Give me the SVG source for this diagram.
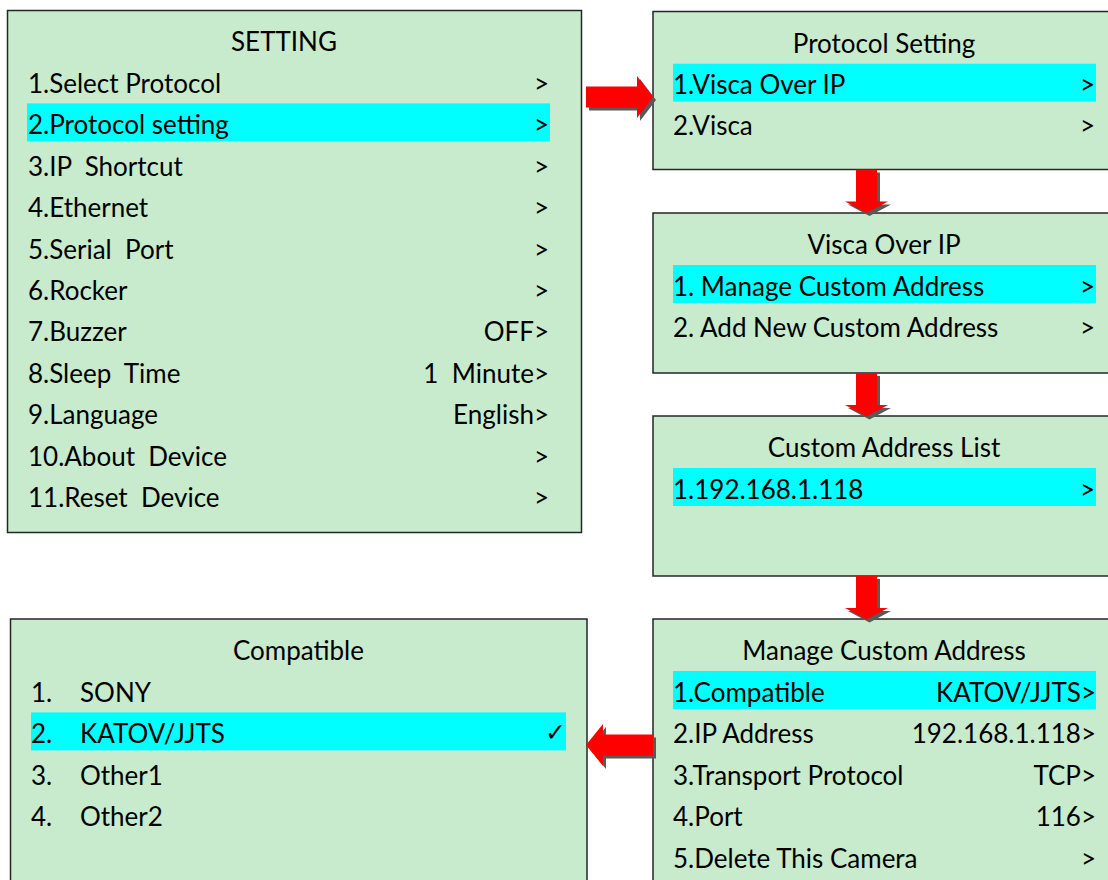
<svg xmlns="http://www.w3.org/2000/svg" width="1108" height="880" viewBox="0 0 1108 880">
<style>
.box{fill:#C7EBCC;stroke:#262626;stroke-width:1.5}
.hl{fill:#00FFFF}
.t{font-family:Lato,"Liberation Sans",sans-serif;font-size:26px;fill:#000;white-space:pre}
.c{text-anchor:middle}
.r{text-anchor:end}
.arr{fill:#FF0000}
.sh{fill:#595959}
</style>
<defs>
<path id="down" d="M-10.5,0 H10.5 V32 H21.5 L0,43.5 L-21.5,32 H-10.5 Z"/>
</defs>
<rect width="1108" height="880" fill="#FFFFFF"/>

<g id="setting">
<rect class="box" x="7.5" y="10.5" width="574" height="522"/>
<rect class="hl" x="27" y="103.4" width="523" height="38"/>
<text class="t c" x="284" y="51">SETTING</text>
<text class="t" x="28" y="93">1.Select Protocol</text><text class="t r" x="549" y="93">&gt;</text>
<text class="t" x="28" y="134.4">2.Protocol setting</text><text class="t r" x="549" y="134.4">&gt;</text>
<text class="t" x="28" y="175.8">3.IP  Shortcut</text><text class="t r" x="549" y="175.8">&gt;</text>
<text class="t" x="28" y="217.2">4.Ethernet</text><text class="t r" x="549" y="217.2">&gt;</text>
<text class="t" x="28" y="258.6">5.Serial  Port</text><text class="t r" x="549" y="258.6">&gt;</text>
<text class="t" x="28" y="300">6.Rocker</text><text class="t r" x="549" y="300">&gt;</text>
<text class="t" x="28" y="341.4">7.Buzzer</text><text class="t r" x="549" y="341.4">OFF&gt;</text>
<text class="t" x="28" y="382.8">8.Sleep  Time</text><text class="t r" x="549" y="382.8">1  Minute&gt;</text>
<text class="t" x="28" y="424.2">9.Language</text><text class="t r" x="549" y="424.2">English&gt;</text>
<text class="t" x="28" y="465.6">10.About  Device</text><text class="t r" x="549" y="465.6">&gt;</text>
<text class="t" x="28" y="507">11.Reset  Device</text><text class="t r" x="549" y="507">&gt;</text>
</g>

<g id="protocol-setting">
<rect class="box" x="653" y="11.5" width="470" height="158"/>
<rect class="hl" x="673" y="63.7" width="423" height="38"/>
<text class="t c" x="884" y="52.7">Protocol Setting</text>
<text class="t" x="673" y="93.5">1.Visca Over IP</text><text class="t r" x="1095" y="93.5">&gt;</text>
<text class="t" x="673" y="135">2.Visca</text><text class="t r" x="1095" y="135">&gt;</text>
</g>

<g id="visca-over-ip">
<rect class="box" x="653" y="213" width="470" height="160"/>
<rect class="hl" x="673" y="265" width="423" height="38"/>
<text class="t c" x="884" y="254">Visca Over IP</text>
<text class="t" x="673" y="295.5">1. Manage Custom Address</text><text class="t r" x="1095" y="295.5">&gt;</text>
<text class="t" x="673" y="336.8">2. Add New Custom Address</text><text class="t r" x="1095" y="336.8">&gt;</text>
</g>

<g id="custom-address-list">
<rect class="box" x="653" y="416" width="470" height="160"/>
<rect class="hl" x="673" y="468" width="423" height="38"/>
<text class="t c" x="884" y="457">Custom Address List</text>
<text class="t" x="673" y="499">1.192.168.1.118</text><text class="t r" x="1095" y="499">&gt;</text>
</g>

<g id="manage-custom-address">
<rect class="box" x="653" y="619" width="470" height="280"/>
<rect class="hl" x="673" y="671" width="423" height="38"/>
<text class="t c" x="884" y="660">Manage Custom Address</text>
<text class="t" x="673" y="702">1.Compatible</text><text class="t r" x="1096" y="702">KATOV/JJTS&gt;</text>
<text class="t" x="673" y="743.4">2.IP Address</text><text class="t r" x="1096" y="743.4">192.168.1.118&gt;</text>
<text class="t" x="673" y="784.8">3.Transport Protocol</text><text class="t r" x="1096" y="784.8">TCP&gt;</text>
<text class="t" x="673" y="826.2">4.Port</text><text class="t r" x="1096" y="826.2">116&gt;</text>
<text class="t" x="673" y="867.6">5.Delete This Camera</text><text class="t r" x="1096" y="867.6">&gt;</text>
</g>

<g id="compatible">
<rect class="box" x="10.5" y="619" width="576.5" height="280"/>
<rect class="hl" x="31" y="712.4" width="535" height="38"/>
<text class="t c" x="298.5" y="660">Compatible</text>
<text class="t" x="31" y="702">1.</text><text class="t" x="80" y="702">SONY</text>
<text class="t" x="31" y="743.4">2.</text><text class="t" x="80" y="743.4">KATOV/JJTS</text>
<text x="566" y="741" text-anchor="end" font-family="DejaVu Sans" font-size="25" fill="#000">✓</text>
<text class="t" x="31" y="784.8">3.</text><text class="t" x="80" y="784.8">Other1</text>
<text class="t" x="31" y="826.2">4.</text><text class="t" x="80" y="826.2">Other2</text>
</g>

<g id="connectors">
<path class="sh" transform="translate(3,3)" d="M586,86.5 H637 V76 L653,97 L637,118 V107.5 H586 Z"/>
<path class="arr" d="M586,86.5 H637 V76 L653,97 L637,118 V107.5 H586 Z"/>
<use href="#down" class="sh" transform="translate(869.5,172.5)"/>
<use href="#down" class="arr" transform="translate(866.5,169.5)"/>
<use href="#down" class="sh" transform="translate(869.5,376)"/>
<use href="#down" class="arr" transform="translate(866.5,373)"/>
<use href="#down" class="sh" transform="translate(869.5,579)"/>
<use href="#down" class="arr" transform="translate(866.5,576)"/>
<path class="sh" transform="translate(3,3)" d="M653,734.5 H603 V724 L586,745 L603,766 V755.5 H653 Z"/>
<path class="arr" d="M653,734.5 H603 V724 L586,745 L603,766 V755.5 H653 Z"/>
</g>
</svg>
